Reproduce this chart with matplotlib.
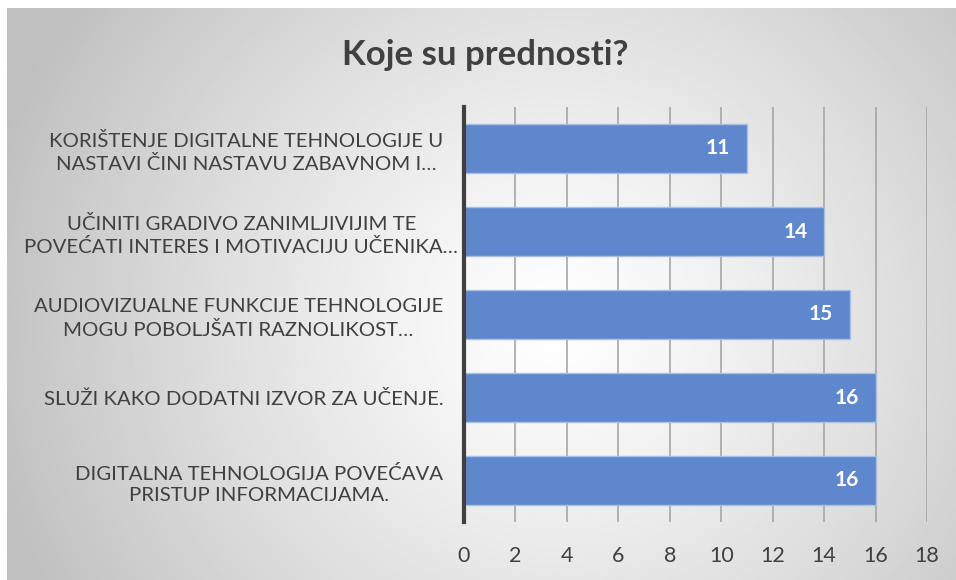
import numpy as np
import matplotlib.pyplot as plt

# podaci
kategorije = [
    'KORIŠTENJE DIGITALNE TEHNOLOGIJE U\nNASTAVI ČINI NASTAVU ZABAVNOM I…',
    'UČINITI GRADIVO ZANIMLJIVIJIM TE\nPOVEĆATI INTERES I MOTIVACIJU UČENIKA…',
    'AUDIOVIZUALNE FUNKCIJE TEHNOLOGIJE\nMOGU POBOLJŠATI RAZNOLIKOST…',
    'SLUŽI KAKO DODATNI IZVOR ZA UČENJE.',
    'DIGITALNA TEHNOLOGIJA POVEĆAVA\nPRISTUP INFORMACIJAMA.',
]
vrijednosti = [11, 14, 15, 16, 16]
x_ticks = [0, 2, 4, 6, 8, 10, 12, 14, 16, 18]

plt.rcParams['font.family'] = ['Lato', 'DejaVu Sans']

fig = plt.figure(figsize=(9.56, 5.8), dpi=100)
fig.patch.set_facecolor('white')

# pozadina s radijalnim gradijentom
bg = fig.add_axes([7 / 956, 0, 949 / 956, 572 / 580], zorder=0)
yy, xx = np.mgrid[0:1:300j, 0:1:500j]
d = np.sqrt(((xx - 0.58) * 1.6) ** 2 + ((yy - 0.45) * 1.0) ** 2)
d = np.clip(d / 1.0, 0, 1)
bg.imshow(1 - 0.25 * d ** 1.2, cmap='gray', vmin=0, vmax=1, aspect='auto',
          extent=[0, 1, 0, 1], origin='lower')
bg.axis('off')

ax = fig.add_axes([464 / 956, 0.1, 463 / 956, 415 / 580], zorder=1)
ax.patch.set_alpha(0)

y = np.arange(len(kategorije))
bars = ax.barh(y, vrijednosti, height=0.59, color='#5F87CD',
               edgecolor='#A9C0E6', linewidth=1, zorder=3)
ax.set_ylim(len(kategorije) - 0.5, -0.5)
ax.set_xlim(0, 18)
ax.set_xticks(x_ticks)
ax.set_xticklabels([str(t) for t in x_ticks], fontsize=15.5, color='#404040')
ax.tick_params(axis='x', length=0, pad=17)
ax.set_yticks(y)
labels = ax.set_yticklabels(kategorije, fontsize=14.7, color='#404040',
                            multialignment='center', linespacing=1.35)
ax.tick_params(axis='y', length=0, pad=15)
# najduzi natpis malo prelazi prema osi kao u originalu
labels[1].set_x(15 / 463)

ax.grid(axis='x', color='#A6A6A6', linewidth=1.2, zorder=1)
for s in ['top', 'right', 'bottom']:
    ax.spines[s].set_visible(False)
ax.spines['left'].set_color('#404040')
ax.spines['left'].set_linewidth(3)
ax.spines['left'].set_zorder(4)

for b, v in zip(bars, vrijednosti):
    ax.annotate(str(v), (v, b.get_y() + b.get_height() / 2),
                xytext=(-12, 0), textcoords='offset points',
                ha='right', va='center', color='white',
                fontsize=15, fontweight='bold', zorder=5)

fig.text(0.508, 0.905, 'Koje su prednosti?', ha='center', va='center',
         fontsize=25, fontweight='bold', color='#404040')

fig.savefig('out.png', dpi=100)
